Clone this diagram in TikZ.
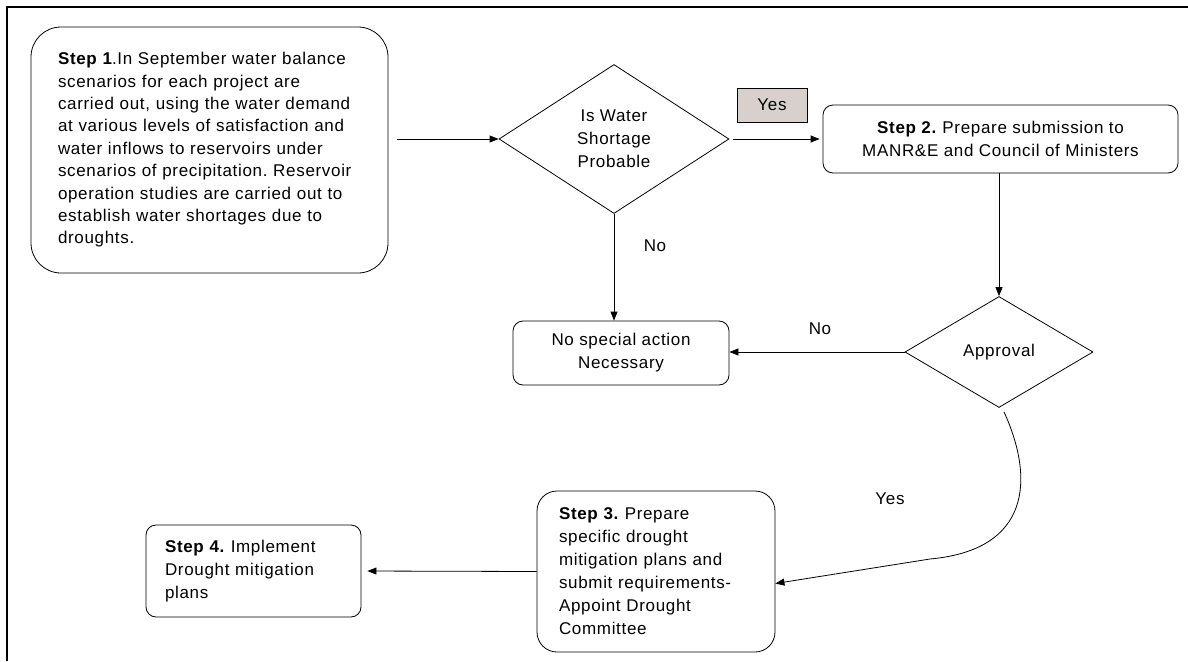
\documentclass[tikz,border=0pt]{standalone}
\usepackage{fontspec}
\setmainfont{Liberation Sans}[LetterSpace=4]
\usetikzlibrary{shapes.geometric,arrows.meta,positioning}

\begin{document}
\frenchspacing
\begin{tikzpicture}[x=1pt,y=-1pt,>={Triangle[length=9pt,width=7pt]},
		every node/.style={font=\fontsize{17}{23}\selectfont,inner sep=0pt},
		stepbox/.style={draw,line width=0.8pt,rounded corners=#1,align=left},
		decide/.style={draw,diamond,line width=0.8pt,align=center},
		arr/.style={->,line width=0.8pt}]
			\useasboundingbox (0,0) rectangle (1188,661);
			\draw[line width=1.5pt] (1188,7) -- (7,7) -- (7,661);
			\node[stepbox=30pt,minimum width=357pt,minimum height=246pt,text width=303pt,font=\fontsize{17}{22.4}\selectfont] (step1) at (209.5,150)
				{\textbf{Step 1}.In September water balance\\scenarios for each project are\\carried out, using the water demand\\at various levels of satisfaction and\\water inflows to reservoirs under\\scenarios of precipitation. Reservoir\\operation studies are carried out to\\establish water shortages due to\\droughts.};
			\node[decide,minimum width=230pt,minimum height=149pt] (short) at (614,139) {Is Water\\Shortage\\Probable};
			\node[draw,fill={rgb,255:red,216;green,208;blue,204},line width=0.8pt,minimum width=70pt,minimum height=34pt] (yes1) at (772,105) {Yes};
			\node[stepbox=10pt,align=center,minimum width=355pt,minimum height=68pt] (step2) at (1000.5,139)
				{\textbf{Step 2.} Prepare submission to\\MANR\&E and Council of Ministers};
			\node[stepbox=10pt,align=center,minimum width=216pt,minimum height=64pt] (nospec) at (621,353) {No special action\\Necessary};
			\node[decide,minimum width=188pt,minimum height=111pt] (approv) at (999,352) {\raisebox{-11pt}{Approval}};
			\node[stepbox=20pt,minimum width=238pt,minimum height=161pt,text width=194pt] (step3) at (656,571.5)
				{\textbf{Step 3.} Prepare\\specific drought\\mitigation plans and\\submit requirements-\\Appoint Drought\\Committee};
			\node[stepbox=10pt,minimum width=215pt,minimum height=92pt,text width=177pt] (step4) at (253.5,571)
				{\textbf{Step 4.} Implement\\Drought mitigation\\plans};
			\node (no1) at (655,246) {No};
			\node (no2) at (820,329) {No};
			\node (yes2) at (890,499) {Yes};
			\coordinate (bend) at (930,559);
			% connectors
			\draw[arr,shorten <=9pt] (step1.east |- short.west) -- (short.west);
			\draw[arr,shorten <=4pt,shorten >=3pt] (short.east) -- (step2.west);
			\draw[arr] (short.south) -- (short.south |- nospec.north);
			\draw[arr] (step2.south -| approv.north) -- (approv.north);
			\draw[arr] (approv.west) -- (nospec.east |- approv.west);
			\draw[arr] ([shift={(5,4)}]approv.south) .. controls +(31,68) and +(100,-9) .. (bend) -- ([yshift=-12pt]step3.east);
			\draw[arr,shorten >=6pt] (step3.west) -- (step4.east);
		\end{tikzpicture}
\end{document}
